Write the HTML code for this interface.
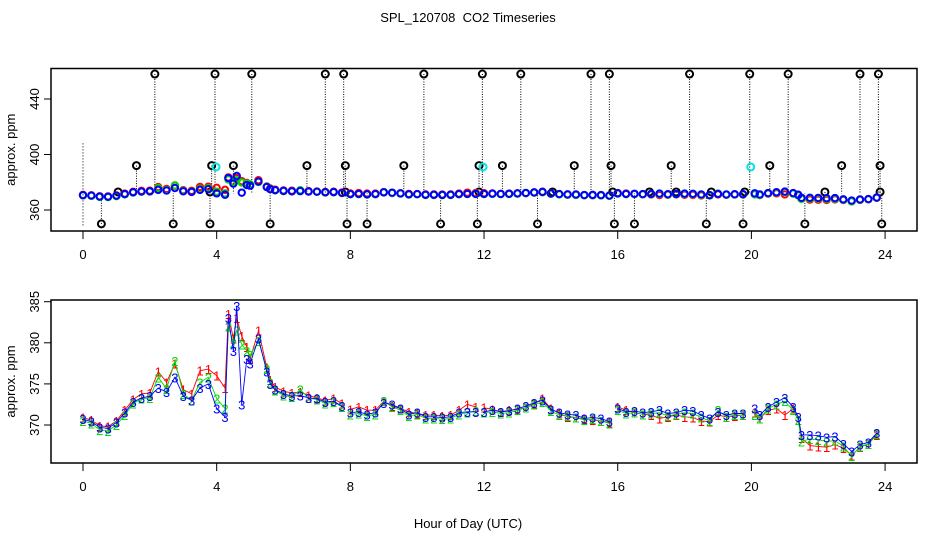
<!DOCTYPE html>
<html><head><meta charset="utf-8">
<style>
html,body{margin:0;padding:0;background:#fff;}
svg{display:block;font-family:"Liberation Sans",sans-serif;}
</style></head>
<body>
<svg id="chart" width="936" height="540" viewBox="0 0 936 540">
<text x="468" y="22" text-anchor="middle" font-size="13" style="white-space:pre">SPL_120708  CO2 Timeseries</text>
<g id="top"></g>
<g id="bot"></g>
<text x="468" y="528" text-anchor="middle" font-size="13">Hour of Day (UTC)</text>
</svg>
<script>
const hours = [0,0.25,0.5,0.75,1,1.25,1.5,1.75,2,2.25,2.5,2.75,3,3.25,3.5,3.75,4,4.25,4.35,4.5,4.6,4.75,4.9,5,5.25,5.5,5.6,5.75,6,6.25,6.5,6.75,7,7.25,7.5,7.75,null,8,8.25,8.5,8.75,9,9.25,9.5,9.75,10,10.25,10.5,10.75,11,11.25,11.5,11.75,null,12,12.25,12.5,12.75,13,13.25,13.5,13.75,14,14.25,14.5,14.75,15,15.25,15.5,15.75,null,16,16.25,16.5,16.75,17,17.25,17.5,17.75,18,18.25,18.5,18.75,19,19.25,19.5,19.75,null,20.1,20.25,20.5,20.75,21,21.25,21.4,21.5,21.75,22,22.25,22.5,22.75,23,23.25,23.5,23.75];
const series3 = [370.7,370.4,369.7,369.6,370.3,371.5,372.8,373.3,373.5,374.5,374.0,375.8,373.5,373.0,374.5,375.0,372.0,371.0,383.0,379.0,384.5,372.5,378.0,377.5,380.5,376.5,375.0,374.3,373.8,373.5,373.6,373.3,373.2,372.8,372.9,372.3,null,371.5,371.6,371.3,371.5,372.7,372.5,372.0,371.3,371.5,371.0,371.0,370.9,371.0,371.5,371.6,371.6,null,371.6,371.8,371.6,371.7,372.0,372.3,372.7,373.0,371.9,371.5,371.3,371.2,370.8,370.9,370.8,370.4,null,372.0,371.6,371.7,371.5,371.6,371.8,371.4,371.5,371.8,371.7,371.2,370.8,371.6,371.2,371.4,371.4,null,372.0,371.2,372.2,372.8,373.3,372.2,371.0,368.8,368.8,368.7,368.5,368.6,367.7,366.8,367.6,367.9,369.0];
const series1 = [370.9,370.6,369.9,369.8,370.5,371.8,373.1,373.8,373.9,376.5,375.2,377.5,374.3,373.8,376.6,376.8,376.0,374.5,383.5,380.5,383.0,380.8,379.5,378.0,381.5,377.0,375.5,374.6,374.1,373.9,374.0,373.6,373.3,373.0,373.2,372.6,null,371.9,372.2,371.8,371.8,372.9,372.3,372.0,371.6,371.4,371.2,371.2,371.1,371.2,371.8,372.5,372.2,null,372.1,371.9,371.6,371.8,371.9,372.1,372.6,373.2,372.0,371.4,371.0,370.9,370.7,370.6,370.5,370.3,null,372.2,371.8,371.5,371.3,371.2,370.8,371.0,371.2,371.0,370.9,370.5,370.4,371.2,371.0,371.1,371.2,null,371.5,370.8,371.8,372.0,371.2,372.0,370.6,368.4,367.5,367.4,367.3,367.6,367.2,366.3,367.3,367.7,368.8];
const series2 = [370.5,370.2,369.4,369.3,370.0,371.2,372.6,373.2,373.3,375.8,374.4,377.8,373.8,373.0,375.2,375.8,373.2,372.0,382.0,380.0,381.5,379.8,379.0,378.5,380.2,376.8,375.2,374.2,373.6,373.4,374.3,373.3,373.1,372.6,372.8,372.2,null,371.3,371.4,371.1,371.3,372.9,372.2,371.8,371.1,371.3,370.8,370.8,370.7,370.8,371.3,371.5,371.7,null,371.5,371.6,371.4,371.5,371.8,372.1,372.5,372.8,371.7,371.2,371.1,370.9,370.6,370.7,370.5,370.2,null,371.8,371.4,371.5,371.3,371.4,371.5,371.1,371.3,371.5,371.4,370.9,370.5,371.8,371.0,371.2,371.2,null,371.2,370.8,372.0,372.5,372.9,371.8,370.6,368.0,368.3,368.2,368.0,368.1,367.4,366.2,367.4,367.7,368.9];
const topHours = [2.15,3.95,5.05,7.25,7.8,10.2,11.95,13.1,15.2,15.75,18.15,19.95,21.1,23.25,23.8];
const midHours = [1.6,3.85,4.5,6.7,7.85,9.6,11.85,12.55,14.7,15.8,17.6,20.55,22.7,23.85];
const lowHours = [1.05,3.8,7.85,11.85,14.05,15.85,16.95,17.75,18.8,19.8,22.2,23.85];
const botHours = [0.55,2.7,3.8,5.6,7.9,8.5,10.7,11.8,13.6,15.9,16.5,18.65,19.75,21.6,23.9];
const cyanHours = [3.98,11.97,19.98];
const topLevel = [458], midLevel = [392], lowLevel = [373], botLevel = [350], cyanLevel = [391];
const xTicks = [0,4,8,12,16,20,24];
const topYTicks = [360,400,440];
const botYTicks = [370,375,380,385];

const NS = "http://www.w3.org/2000/svg";
function mk(parent, tag, attrs){const e=document.createElementNS(NS,tag);for(const k in attrs)e.setAttribute(k,attrs[k]);parent.appendChild(e);return e;}
const L=51,R=917;
const xs = h => 83 + h*33.42;
const yTop = v => 210 - (v-360)*1.3875;
const yBot = v => 425 - (v-370)*8.22;

function axes(g, top, bottom, yfun, yticks, prefix){
  const box=mk(g,'rect',{x:L,y:top,width:R-L,height:bottom-top,fill:'none',stroke:'#000','stroke-width':1.5});
  
  
  const xa=mk(g,'line',{x1:xs(0),x2:xs(24),y1:bottom,y2:bottom,stroke:'#000'});
  
  
  xTicks.forEach(t=>{
    const tk=mk(g,'line',{x1:xs(t),x2:xs(t),y1:bottom,y2:bottom+8,stroke:'#000'});
    
    
    const tx=mk(g,'text',{x:xs(t),y:bottom+28,'text-anchor':'middle','font-size':13});
    tx.textContent=t;
    
    
  });
  yticks.forEach(t=>{
    const y=yfun(t);
    const tk=mk(g,'line',{x1:L-7,x2:L,y1:y,y2:y,stroke:'#000'});
    
    
    const tx=mk(g,'text',{x:0,y:0,'text-anchor':'middle','font-size':13,transform:`translate(${L-12},${y}) rotate(-90)`});
    tx.textContent=t;
    
    
  });
  const yt=mk(g,'text',{x:0,y:0,'text-anchor':'middle','font-size':13,transform:`translate(15,${(top+bottom)/2}) rotate(-90)`});
  yt.textContent='approx. ppm';
  
  
}

// TOP PANEL
const gt=document.getElementById('top');
axes(gt,68.5,231,yTop,topYTicks,'top');
const base=372;
mk(gt,'line',{x1:xs(0),x2:xs(0),y1:yTop(408),y2:yTop(348),stroke:'#000','stroke-dasharray':'1,2'});
function outliers(hs, lvl, color, name){
  hs.forEach(h=>{
    const ln=mk(gt,'line',{x1:xs(h),x2:xs(h),y1:yTop(lvl[0]),y2:yTop(base),stroke:'#000','stroke-width':1,'stroke-dasharray':'1,1.5'});
    
    
  });
  hs.forEach(h=>{
    const c=mk(gt,'circle',{cx:xs(h),cy:yTop(lvl[0]),r:3.5,fill:'none',stroke:color,'stroke-width':2});
    
    
  });
}
outliers(topHours,topLevel,'#000','outlier-high');
outliers(midHours,midLevel,'#000','outlier-mid');
outliers(lowHours,lowLevel,'#000','outlier-low');
outliers(botHours,botLevel,'#000','outlier-bottom');
[[series1,'#ff0000','series-1'],[series2,'#00dd00','series-2'],[series3,'#0000ff','series-3']].forEach(([s,col,nm])=>{
  s.forEach((v,i)=>{ if(v===null) return;
    const c=mk(gt,'circle',{cx:xs(hours[i]),cy:yTop(v),r:3.2,fill:'none',stroke:col,'stroke-width':2});
    
    
  });
});
cyanHours.forEach(h=>{
  const c=mk(gt,'circle',{cx:xs(h),cy:yTop(cyanLevel[0]),r:3.5,fill:'none',stroke:'#00e5e5','stroke-width':2});
  
  
});

// BOTTOM PANEL
const gb=document.getElementById('bot');
axes(gb,300,463,yBot,botYTicks,'bottom');
[[series1,'#ff0000','1','series-1'],[series2,'#00dd00','2','series-2'],[series3,'#0000ff','3','series-3']].forEach(([s,col,ch,nm])=>{
  let d='',pen=false;
  s.forEach((v,i)=>{ if(v===null){pen=false;return;} d+=(pen?'L':'M')+xs(hours[i]).toFixed(1)+','+yBot(v).toFixed(1); pen=true;});
  const p=mk(gb,'path',{d:d,fill:'none',stroke:col,'stroke-width':0.9});
  
  
  s.forEach((v,i)=>{ if(v===null) return;
    const t=mk(gb,'text',{x:xs(hours[i]),y:yBot(v)+5,'text-anchor':'middle','font-size':13,fill:col});
    t.textContent=ch;
    
    
  });
});
</script>
</body></html>
